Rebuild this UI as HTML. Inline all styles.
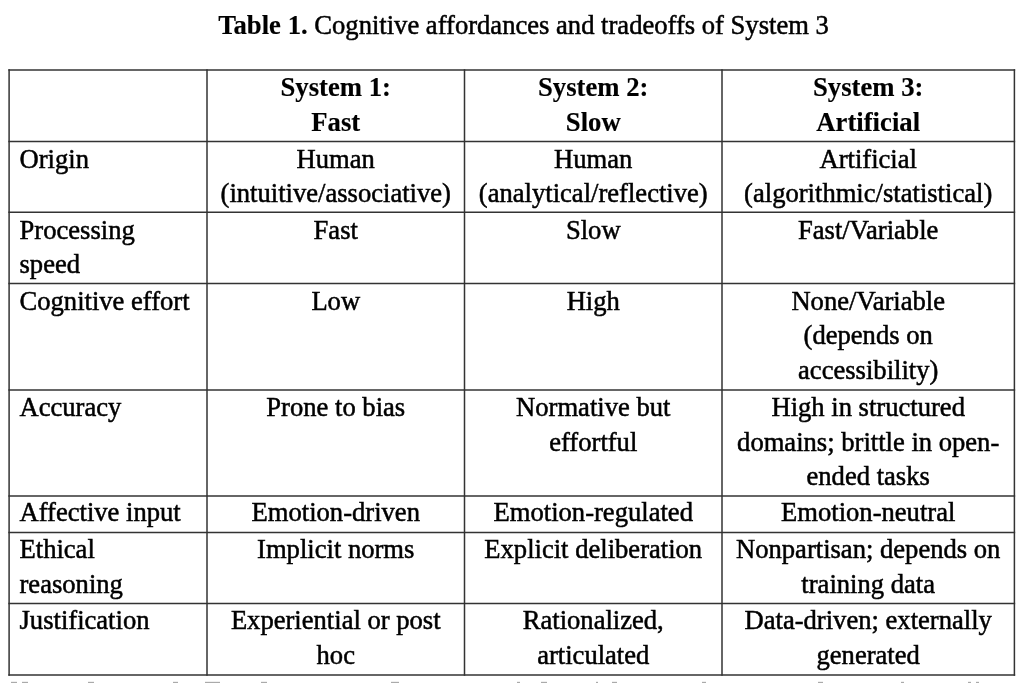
<!DOCTYPE html>
<html><head><meta charset="utf-8"><style>
html,body{margin:0;padding:0;background:#fff;width:1024px;height:683px;overflow:hidden}
body{position:relative;will-change:transform;font-family:"Liberation Serif",serif;font-size:26.6px;color:#000;line-height:36px;-webkit-text-stroke:0.5px #000}
svg{position:absolute;left:0;top:0}
.t{position:absolute;white-space:nowrap}
.c{width:500px;text-align:center}
.b{font-weight:bold;font-size:26.7px;-webkit-text-stroke:0.15px #000}
.title{position:absolute;left:0;width:1047px;text-align:center;top:7px;white-space:nowrap}
.title b{font-size:26.7px;-webkit-text-stroke:0.15px #000}
.n{position:absolute;top:681px;height:2px;background:linear-gradient(#f0f0f0 50%,#aaa 50%)}
</style></head><body>
<div class="title"><b>Table 1.</b> Cognitive affordances and tradeoffs of System 3</div>
<svg width="1024" height="683" viewBox="0 0 1024 683"><g stroke="#333" stroke-width="1.5" fill="none">
<line x1="8.35" y1="70.1" x2="1015.15" y2="70.1"/>
<line x1="8.35" y1="141.5" x2="1015.15" y2="141.5"/>
<line x1="8.35" y1="212.3" x2="1015.15" y2="212.3"/>
<line x1="8.35" y1="283.5" x2="1015.15" y2="283.5"/>
<line x1="8.35" y1="390.0" x2="1015.15" y2="390.0"/>
<line x1="8.35" y1="496.0" x2="1015.15" y2="496.0"/>
<line x1="8.35" y1="532.4" x2="1015.15" y2="532.4"/>
<line x1="8.35" y1="603.4" x2="1015.15" y2="603.4"/>
<line x1="8.35" y1="675.1" x2="1015.15" y2="675.1"/>
<line x1="9.1" y1="69.35" x2="9.1" y2="675.85"/>
<line x1="207.0" y1="69.35" x2="207.0" y2="675.85"/>
<line x1="464.5" y1="69.35" x2="464.5" y2="675.85"/>
<line x1="722.0" y1="69.35" x2="722.0" y2="675.85"/>
<line x1="1014.4" y1="69.35" x2="1014.4" y2="675.85"/>
</g></svg>
<div class="t c b" style="top:69px;left:85.75px">System 1:</div>
<div class="t c b" style="top:104px;left:85.75px">Fast</div>
<div class="t c b" style="top:69px;left:343.25px">System 2:</div>
<div class="t c b" style="top:104px;left:343.25px">Slow</div>
<div class="t c b" style="top:69px;left:618.20px">System 3:</div>
<div class="t c b" style="top:104px;left:618.20px">Artificial</div>
<div class="t" style="top:141px;left:19.5px">Origin</div>
<div class="t c" style="top:141px;left:85.75px">Human</div>
<div class="t c" style="top:175px;left:85.75px">(intuitive/associative)</div>
<div class="t c" style="top:141px;left:343.25px">Human</div>
<div class="t c" style="top:175px;left:343.25px">(analytical/reflective)</div>
<div class="t c" style="top:141px;left:618.20px">Artificial</div>
<div class="t c" style="top:175px;left:618.20px">(algorithmic/statistical)</div>
<div class="t" style="top:212px;left:19.5px">Processing</div>
<div class="t" style="top:246px;left:19.5px">speed</div>
<div class="t c" style="top:212px;left:85.75px">Fast</div>
<div class="t c" style="top:212px;left:343.25px">Slow</div>
<div class="t c" style="top:212px;left:618.20px">Fast/Variable</div>
<div class="t" style="top:283px;left:19.5px">Cognitive effort</div>
<div class="t c" style="top:283px;left:85.75px">Low</div>
<div class="t c" style="top:283px;left:343.25px">High</div>
<div class="t c" style="top:283px;left:618.20px">None/Variable</div>
<div class="t c" style="top:317px;left:618.20px">(depends on</div>
<div class="t c" style="top:352px;left:618.20px">accessibility)</div>
<div class="t" style="top:389px;left:19.5px">Accuracy</div>
<div class="t c" style="top:389px;left:85.75px">Prone to bias</div>
<div class="t c" style="top:389px;left:343.25px">Normative but</div>
<div class="t c" style="top:424px;left:343.25px">effortful</div>
<div class="t c" style="top:389px;left:618.20px">High in structured</div>
<div class="t c" style="top:424px;left:618.20px">domains; brittle in open-</div>
<div class="t c" style="top:458px;left:618.20px">ended tasks</div>
<div class="t" style="top:494px;left:19.5px">Affective input</div>
<div class="t c" style="top:494px;left:85.75px">Emotion-driven</div>
<div class="t c" style="top:494px;left:343.25px">Emotion-regulated</div>
<div class="t c" style="top:494px;left:618.20px">Emotion-neutral</div>
<div class="t" style="top:531px;left:19.5px">Ethical</div>
<div class="t" style="top:566px;left:19.5px">reasoning</div>
<div class="t c" style="top:531px;left:85.75px">Implicit norms</div>
<div class="t c" style="top:531px;left:343.25px">Explicit deliberation</div>
<div class="t c" style="top:531px;left:618.20px">Nonpartisan; depends on</div>
<div class="t c" style="top:566px;left:618.20px">training data</div>
<div class="t" style="top:602px;left:19.5px">Justification</div>
<div class="t c" style="top:602px;left:85.75px">Experiential or post</div>
<div class="t c" style="top:637px;left:85.75px">hoc</div>
<div class="t c" style="top:602px;left:343.25px">Rationalized,</div>
<div class="t c" style="top:637px;left:343.25px">articulated</div>
<div class="t c" style="top:602px;left:618.20px">Data-driven; externally</div>
<div class="t c" style="top:637px;left:618.20px">generated</div>
<div class="n" style="left:11.0px;width:5.5px"></div>
<div class="n" style="left:21.5px;width:6.0px"></div>
<div class="n" style="left:88.0px;width:6.0px"></div>
<div class="n" style="left:172.5px;width:5.0px"></div>
<div class="n" style="left:205.0px;width:15.0px"></div>
<div class="n" style="left:261.0px;width:6.0px"></div>
<div class="n" style="left:391.0px;width:7.5px"></div>
<div class="n" style="left:517.0px;width:2.5px"></div>
<div class="n" style="left:541.0px;width:6.0px"></div>
<div class="n" style="left:596.0px;width:2.0px"></div>
<div class="n" style="left:612.0px;width:5.0px"></div>
<div class="n" style="left:702.0px;width:4.0px"></div>
<div class="n" style="left:818.0px;width:5.0px"></div>
<div class="n" style="left:900.5px;width:3.5px"></div>
<div class="n" style="left:968.0px;width:2.5px"></div>
<div class="n" style="left:975.5px;width:3.5px"></div>
</body></html>
